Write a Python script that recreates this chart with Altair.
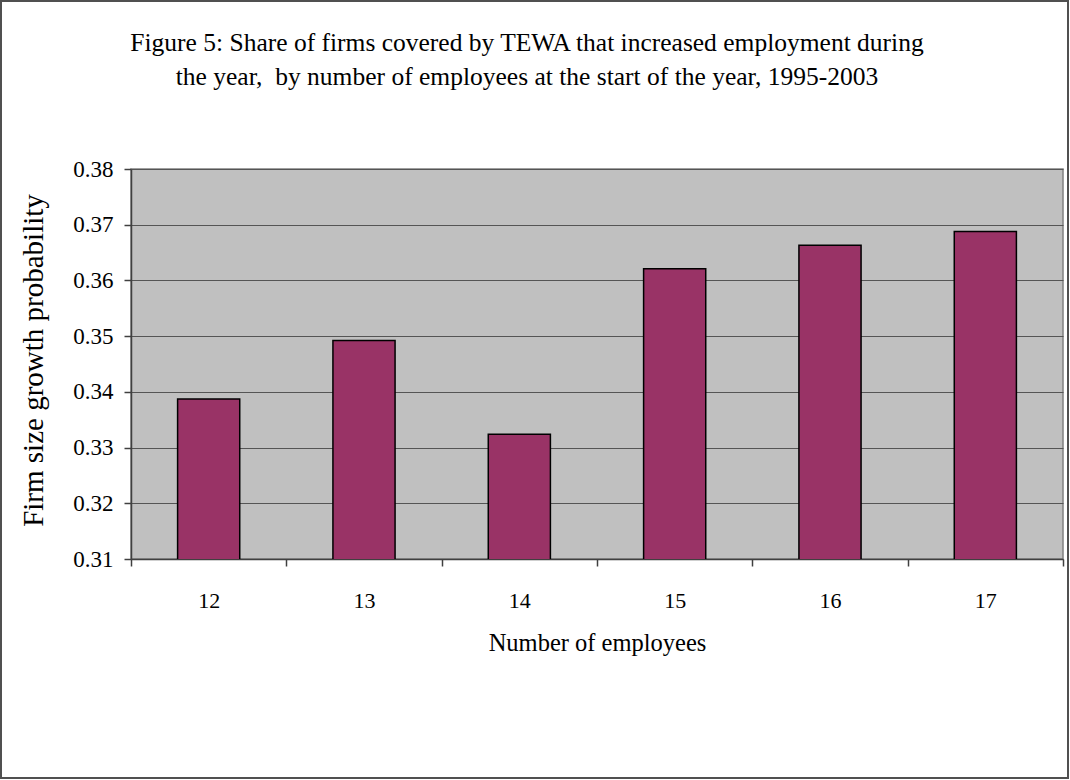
import altair as alt
import pandas as pd

employees = ["12", "13", "14", "15", "16", "17"]
probability = [0.3387, 0.3492, 0.3324, 0.3621, 0.3663, 0.3688]
title_lines = ["Figure 5: Share of firms covered by TEWA that increased employment during",
               "the year,\u00a0 by number of employees at the start of the year, 1995-2003"]

df = pd.DataFrame({"employees": employees, "prob": probability})
tdf = pd.DataFrame({"line": title_lines, "row": [0, 1]})

FONT = "Liberation Serif"

bars = alt.Chart(df).mark_bar(
    color="#993366", stroke="black", strokeWidth=1.5, width={"band": 0.4}, clip=True
).encode(
    x=alt.X("employees:N", sort=employees,
            scale=alt.Scale(paddingInner=0, paddingOuter=0),
            axis=alt.Axis(title="Number of employees", labelAngle=0, tickBand="extent",
                          labelPadding=24, titlePadding=20, tickSize=7,
                          titleFontSize=24.5, grid=False)),
    y=alt.Y("prob:Q", scale=alt.Scale(domain=[0.31, 0.38], nice=False, zero=False),
            axis=alt.Axis(title="Firm size growth probability",
                          values=[0.31, 0.32, 0.33, 0.34, 0.35, 0.36, 0.37, 0.38],
                          format=".2f", tickSize=7, labelPadding=11, labelFontSize=23,
                          titleFontSize=29, titleX=-83, titleY=191, grid=True)),
)

title0 = alt.Chart(tdf).transform_filter("datum.row == 0").mark_text(
    font=FONT, fontSize=25.5, baseline="middle", align="center", color="black"
).encode(text="line:N", x=alt.value(396), y=alt.value(-126))

title1 = alt.Chart(tdf).transform_filter("datum.row == 1").mark_text(
    font=FONT, fontSize=25.5, baseline="middle", align="center", color="black"
).encode(text="line:N", x=alt.value(396), y=alt.value(-92))

border = alt.Chart(df).mark_rect(fill=None, stroke="#505050", strokeWidth=2).encode(
    x=alt.value(-130), x2=alt.value(937), y=alt.value(-168), y2=alt.value(609)
)

chart = alt.layer(bars, title0, title1, border).properties(
    width=932, height=390,
    background="white",
    autosize=alt.AutoSizeParams(type="none"),
    padding={"left": 131, "top": 169, "right": 7, "bottom": 221},
).configure_view(
    fill="#C0C0C0", stroke="#808080", strokeWidth=1.5
).configure_axis(
    labelFont=FONT, titleFont=FONT, labelFontSize=22, titleFontSize=22,
    labelColor="black", titleColor="black", titleFontWeight="normal",
    domainColor="#404040", tickColor="#404040", gridColor="#555555",
    domainWidth=1.5, tickWidth=1.5, gridWidth=1.2,
)

chart.save("out.html", embed_options={"renderer": "svg", "actions": False})
